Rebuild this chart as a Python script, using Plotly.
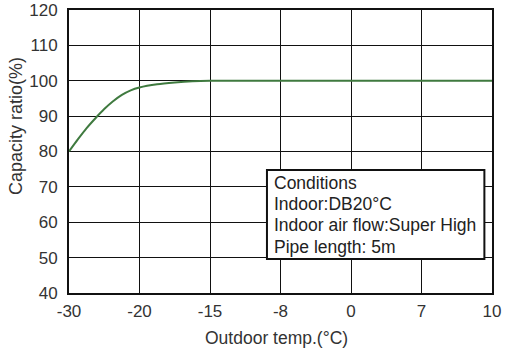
import plotly.graph_objects as go

# Tick labels (evenly spaced categories on the x axis)
x_tick_labels = ["-30", "-20", "-15", "-8", "0", "7", "10"]
x_tick_pos = [0, 1, 2, 3, 4, 5, 6]

# Curve (x in tick-position units, y = capacity ratio %)
curve_x = [0, 0.125, 0.25, 0.375, 0.5, 0.625, 0.75, 0.875, 1.0, 1.25, 1.5, 1.75, 2.0, 3, 4, 5, 6]
curve_y = [80, 83.4, 86.6, 89.4, 92.0, 94.2, 96.0, 97.3, 98.1, 99.0, 99.5, 99.85, 100, 100, 100, 100, 100]

conditions = ["Conditions", "Indoor:DB20°C", "Indoor air flow:Super High", "Pipe length: 5m"]

FONT = "Liberation Sans, Arial, sans-serif"
TXT = "#333333"

fig = go.Figure()
fig.add_trace(go.Scatter(
    x=curve_x, y=curve_y, mode="lines",
    line=dict(color="#3f7a3f", width=2, shape="spline", smoothing=0.6),
    hoverinfo="skip", showlegend=False,
))

fig.add_shape(type="rect", xref="paper", yref="paper",
              x0=0.468, x1=0.982, y0=0.12, y1=0.435,
              line=dict(color="#111111", width=2), fillcolor="white", layer="above")

# conditions text, one line per annotation (paper coords, 283 px plot height)
for i, line in enumerate(conditions):
    fig.add_annotation(xref="paper", yref="paper", x=0.48, y=(293 - (183 + 21.2 * i)) / 283,
                       xanchor="left", yanchor="middle", showarrow=False, align="left",
                       text=line, font=dict(family=FONT, size=17.5, color="#222222"))

# axis titles
fig.add_annotation(xref="paper", yref="paper", x=(276 - 69) / 423, y=(293 - 338) / 283,
                   xanchor="center", yanchor="middle", showarrow=False,
                   text="Outdoor temp.(°C)", font=dict(family=FONT, size=17.5, color=TXT))
fig.add_annotation(xref="paper", yref="paper", x=(16 - 69) / 423, y=(293 - 126) / 283,
                   xanchor="center", yanchor="middle", showarrow=False, textangle=-90,
                   text="Capacity ratio(%)", font=dict(family=FONT, size=18, color=TXT))

fig.update_layout(
    width=510, height=353,
    margin=dict(l=69, r=18, t=10, b=60, autoexpand=False),
    paper_bgcolor="white", plot_bgcolor="white",
    font=dict(family=FONT, size=17, color=TXT),
    xaxis=dict(
        range=[0, 6], tickmode="array", tickvals=x_tick_pos, ticktext=x_tick_labels,
        showgrid=True, gridcolor="#111111", gridwidth=1,
        showline=True, linecolor="#111111", linewidth=2, mirror=True,
        ticks="", zeroline=False, ticklabelstandoff=2, automargin=False,
    ),
    yaxis=dict(
        range=[40, 120], dtick=10, tick0=40,
        showgrid=True, gridcolor="#111111", gridwidth=1,
        showline=True, linecolor="#111111", linewidth=2, mirror=True,
        ticks="", zeroline=False, ticklabelstandoff=6, automargin=False,
    ),
)

fig.write_html("out.html")
